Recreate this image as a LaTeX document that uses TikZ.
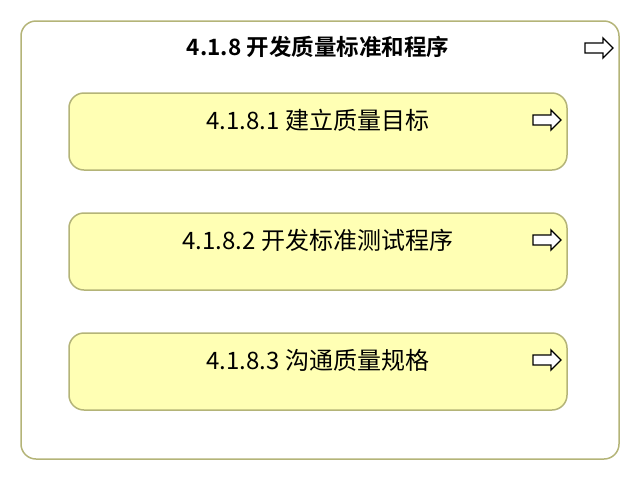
\documentclass[tikz,border=0pt]{standalone}
\usepackage{fontspec}
\newfontfamily\cjk{Noto Sans CJK SC}
\newfontfamily\cjkb{Noto Sans CJK SC Bold}
\definecolor{olive}{HTML}{B4B478}
\definecolor{paleyellow}{HTML}{FFFFB4}
\begin{document}
\begin{tikzpicture}[x=1pt,y=-1pt,
  outerbox/.style={draw=olive,line width=1.5pt,rounded corners=15pt,fill=white,minimum width=598pt,minimum height=438pt,inner sep=0pt},
  innerbox/.style={draw=olive,line width=1.5pt,rounded corners=15pt,fill=paleyellow,minimum width=498pt,minimum height=77pt,inner sep=0pt},
  lbl/.style={font=\cjk\fontsize{24}{28}\selectfont,inner sep=0pt},
  tlbl/.style={font=\cjkb\fontsize{22.5}{26}\selectfont,inner sep=0pt},
  arrowicon/.style={draw=black,line width=1.3pt,fill=white,line join=miter}
]
\useasboundingbox (0,0) rectangle (640,480);
\node[outerbox] (outer) at (320,240) {};
\node[tlbl] (title) at (318,47) {4.1.8 开发质量标准和程序};
\draw[arrowicon] (585,43) -- (603,43) -- (603,38) -- (613,48) -- (603,58) -- (603,53) -- (585,53) -- cycle;

\foreach \i/\y/\t in {1/131.5/{4.1.8.1 建立质量目标},2/251.5/{4.1.8.2 开发标准测试程序},3/371.5/{4.1.8.3 沟通质量规格}}{
  \node[innerbox] (box\i) at (318,\y) {};
  \node[lbl] (lbl\i) at (318,\y-11) {\t};
  \draw[arrowicon] (533,\y-16.5) -- (551,\y-16.5) -- (551,\y-21.5) -- (561,\y-11.5) -- (551,\y-1.5) -- (551,\y-6.5) -- (533,\y-6.5) -- cycle;
}
\end{tikzpicture}
\end{document}
